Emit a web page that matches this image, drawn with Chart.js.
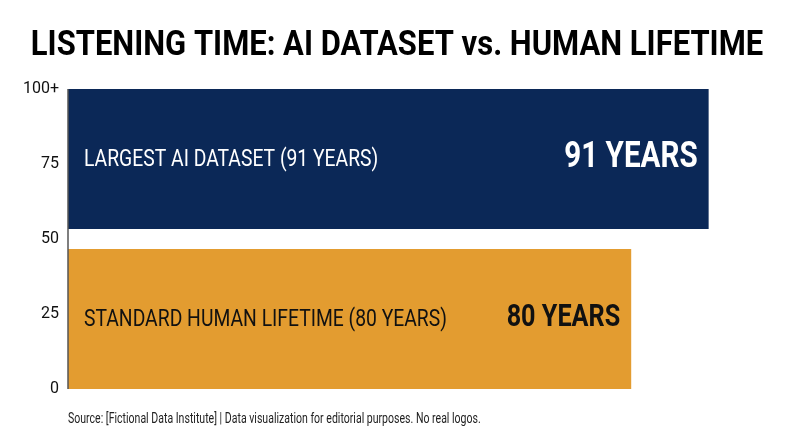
<!DOCTYPE html>
<html>
<head>
<meta charset="utf-8">
<script src="https://cdn.jsdelivr.net/npm/chart.js@4.4.1/dist/chart.umd.min.js"></script>
<style>
  html, body { margin: 0; padding: 0; background: #fff; }
  #wrap { width: 800px; height: 447px; }
</style>
</head>
<body>
<div id="wrap"><canvas id="listeningChart"></canvas></div>
<script>
const titleText = 'LISTENING TIME: AI DATASET vs. HUMAN LIFETIME';
const sourceText = 'Source: [Fictional Data Institute] | Data visualization for editorial purposes. No real logos.';

const categories = ['LARGEST AI DATASET (91 YEARS)', 'STANDARD HUMAN LIFETIME (80 YEARS)'];
const years = [91, 80];
const barColors = ['#0b2857', '#e39c30'];
const labelColors = ['#ffffff', '#111111'];
const valueFontSizes = [37, 31.5];

const tickValues = [0, 25, 50, 75, 100];
const tickLabels = ['0', '25', '50', '75', '100+'];

// roboto is wider than the condensed face in the picture, so squeeze it
function squeezedText(ctx, text, x, y, font, color, align, squeeze) {
    ctx.save();
    ctx.font = font;
    ctx.fillStyle = color;
    ctx.textBaseline = 'middle';
    ctx.textAlign = 'left';
    const w = ctx.measureText(text).width * squeeze;
    let left = x;
    if (align === 'right') left = x - w;
    if (align === 'center') left = x - w / 2;
    ctx.translate(left, y);
    ctx.scale(squeeze, 1);
    ctx.fillText(text, 0, 0);
    ctx.restore();
}

const labelPlugin = {
    id: 'labelPlugin',
    afterDatasetsDraw(chart) {
        const ctx = chart.ctx;
        const area = chart.chartArea;
        const tickScale = chart.scales.yTicks;

        // left axis line, only along the 0..100 span
        ctx.save();
        ctx.strokeStyle = '#555555';
        ctx.lineWidth = 1.5;
        ctx.beginPath();
        ctx.moveTo(area.left, tickScale.getPixelForValue(100));
        ctx.lineTo(area.left, tickScale.getPixelForValue(0));
        ctx.stroke();
        ctx.restore();

        const meta = chart.getDatasetMeta(0);
        meta.data.forEach((bar, i) => {
            squeezedText(ctx, categories[i], area.left + 16, bar.y + 1,
                '400 23px Roboto', labelColors[i], 'left', 0.84);
            squeezedText(ctx, years[i] + ' YEARS', bar.x - 11, bar.y - 1,
                '700 ' + valueFontSizes[i] + 'px Roboto', labelColors[i], 'right', 0.8);
        });
    },
    afterDraw(chart) {
        const ctx = chart.ctx;
        squeezedText(ctx, titleText, 397, 46, '700 35px Roboto', '#000000', 'center', 0.885);
        squeezedText(ctx, sourceText, chart.chartArea.left, 419, '400 14px Roboto', '#222222', 'left', 0.753);
    }
};

const ctx = document.getElementById('listeningChart').getContext('2d');
new Chart(ctx, {
    type: 'bar',
    data: {
        labels: categories,
        datasets: [{
            data: years,
            backgroundColor: barColors,
            borderWidth: 0,
            barPercentage: 0.875,
            categoryPercentage: 1
        }]
    },
    options: {
        indexAxis: 'y',
        responsive: true,
        maintainAspectRatio: false,
        animation: false,
        layout: {
            padding: { top: 79, bottom: 48, left: 0, right: 28 }
        },
        scales: {
            x: {
                display: false,
                min: 0,
                max: 100
            },
            y: {
                display: false
            },
            yTicks: {
                type: 'linear',
                position: 'left',
                offset: false,
                min: -10 / 3,
                max: 100 + 10 / 3,
                afterBuildTicks: scale => {
                    scale.ticks = tickValues.map(v => ({ value: v }));
                },
                afterFit: scale => {
                    scale.width = 68;
                },
                grid: { display: false, drawTicks: false },
                border: { display: false },
                ticks: {
                    padding: 9,
                    color: '#111111',
                    font: { family: 'Roboto', size: 16 },
                    callback: (value) => tickLabels[tickValues.indexOf(value)]
                }
            }
        },
        plugins: {
            legend: { display: false },
            title: { display: false },
            tooltip: { enabled: false }
        }
    },
    plugins: [labelPlugin]
});
</script>
</body>
</html>
